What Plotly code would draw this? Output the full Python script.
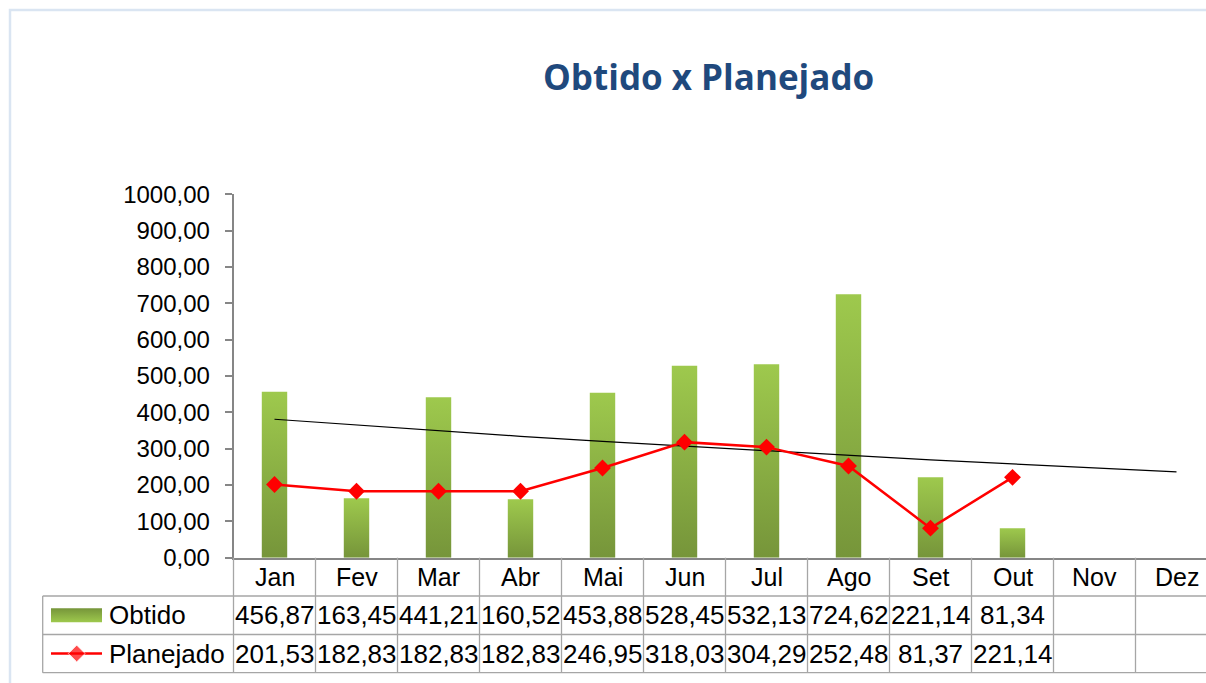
import plotly.graph_objects as go

# ---------------- data ----------------
MONTHS = ["Jan", "Fev", "Mar", "Abr", "Mai", "Jun", "Jul", "Ago", "Set", "Out", "Nov", "Dez"]
OBTIDO = [456.87, 163.45, 441.21, 160.52, 453.88, 528.45, 532.13, 724.62, 221.14, 81.34]
PLANEJADO = [201.53, 182.83, 182.83, 182.83, 246.95, 318.03, 304.29, 252.48, 81.37, 221.14]
# trend line
TREND = [381, 365, 349, 334, 320, 307, 294, 281, 269, 258, 247, 236]
Y_TICKS = [0, 100, 200, 300, 400, 500, 600, 700, 800, 900, 1000]
SERIES_NAMES = ["Obtido", "Planejado"]
TITLE = "Obtido x Planejado"

# ---------------- layout constants (pixels) ----------------
W, H = 1206, 683
PLOT_L, PLOT_T, PLOT_B = 233.5, 194.3, 557.7
COL_W = 82.0
ROW_LINES = [596.0, 634.5, 672.7]
TABLE_L = 42.7
BAR_W = 0.31
GREEN_DARK, GREEN_LIGHT = "#76953A", "#9EC94D"
RED = "#FF0000"
GRID = "#A6A6A6"
AXIS = "#868686"
FONT = "Liberation Sans, Arial, sans-serif"


def fx(p):
    return p / W


def fy(p):
    return 1 - p / H


def fmt(v):
    return f"{v:.2f}".replace(".", ",")


fig = go.Figure()

# bars with vertical gradient
for i, v in enumerate(OBTIDO):
    h = BAR_W / 2
    fig.add_trace(go.Scatter(
        x=[i - h, i - h, i + h, i + h, i - h], y=[0, v, v, 0, 0],
        mode="lines", line=dict(width=0, color=GREEN_DARK),
        fill="toself",
        fillgradient=dict(type="vertical", colorscale=[[0, GREEN_DARK], [1, GREEN_LIGHT]]),
        hoverinfo="skip", showlegend=False, xaxis="x", yaxis="y"))

# trend line
fig.add_trace(go.Scatter(x=list(range(len(TREND))), y=TREND, mode="lines",
                         line=dict(color="#000000", width=1.2), showlegend=False,
                         hoverinfo="skip"))

# planejado line
fig.add_trace(go.Scatter(x=list(range(len(PLANEJADO))), y=PLANEJADO, mode="lines+markers",
                         line=dict(color=RED, width=2.5),
                         marker=dict(symbol="diamond", size=13, color=RED),
                         showlegend=False, name=SERIES_NAMES[1]))

# legend keys in pixel-space overlay subplot
fig.add_trace(go.Scatter(
    x=[51, 51, 102, 102, 51], y=[622.3, 608.3, 608.3, 622.3, 622.3],
    mode="lines", line=dict(width=0, color=GREEN_DARK), fill="toself",
    fillgradient=dict(type="vertical", colorscale=[[0, GREEN_LIGHT], [1, GREEN_DARK]]),
    xaxis="x2", yaxis="y2", showlegend=False, hoverinfo="skip"))
fig.add_trace(go.Scatter(
    x=[51, 76.7, 102], y=[653.5, 653.5, 653.5], mode="lines+markers",
    line=dict(color=RED, width=2.5),
    marker=dict(symbol="diamond", size=[0, 13, 0], color=RED),
    xaxis="x2", yaxis="y2", showlegend=False, hoverinfo="skip"))

shapes = []
# page border
shapes.append(dict(type="rect", xref="paper", yref="paper", x0=fx(10), x1=1.05, y0=fy(10), y1=-0.05,
                   line=dict(color="#DAE5F2", width=2.5), fillcolor="rgba(0,0,0,0)", layer="below"))
# horizontal table lines
for yy in ROW_LINES:
    shapes.append(dict(type="line", xref="paper", yref="paper", x0=fx(TABLE_L), x1=1,
                       y0=fy(yy), y1=fy(yy), line=dict(color=GRID, width=1.3)))
# table left border
shapes.append(dict(type="line", xref="paper", yref="paper", x0=fx(TABLE_L), x1=fx(TABLE_L),
                   y0=fy(ROW_LINES[0]), y1=fy(ROW_LINES[-1]), line=dict(color=GRID, width=1.3)))
shapes.append(dict(type="line", xref="paper", yref="paper", x0=fx(PLOT_L), x1=fx(PLOT_L),
                   y0=fy(PLOT_B), y1=fy(ROW_LINES[-1]), line=dict(color=GRID, width=1.3)))
for k in range(1, len(MONTHS)):
    shapes.append(dict(type="line", xref="x", yref="paper", x0=k - 0.5, x1=k - 0.5,
                       y0=fy(PLOT_B), y1=fy(ROW_LINES[-1]), line=dict(color=GRID, width=1.3)))

annotations = []
annotations.append(dict(text=TITLE, xref="paper", yref="paper", x=fx(708), y=fy(76),
                        xanchor="center", yanchor="middle", showarrow=False,
                        font=dict(family="Open Sans, sans-serif", size=35, color="#1F497D", weight="bold")))
row_c = [(PLOT_B + ROW_LINES[0]) / 2, (ROW_LINES[0] + ROW_LINES[1]) / 2, (ROW_LINES[1] + ROW_LINES[2]) / 2]
for i, m in enumerate(MONTHS):
    annotations.append(dict(text=m, xref="x", yref="paper", x=i, y=fy(row_c[0]),
                            xanchor="center", yanchor="middle", showarrow=False,
                            font=dict(family=FONT, size=25, color="#000")))
for r, series in enumerate([OBTIDO, PLANEJADO]):
    for i, v in enumerate(series):
        annotations.append(dict(text=fmt(v), xref="x", yref="paper", x=i, y=fy(row_c[r + 1]),
                                xanchor="center", yanchor="middle", showarrow=False,
                                font=dict(family=FONT, size=26, color="#000")))
    annotations.append(dict(text=SERIES_NAMES[r], xref="paper", yref="paper", x=fx(107),
                            y=fy(row_c[r + 1]), xanchor="left", yanchor="middle", showarrow=False,
                            font=dict(family=FONT, size=26, color="#000")))

fig.update_layout(
    width=W, height=H, margin=dict(l=0, r=0, t=0, b=0, pad=0, autoexpand=False),
    paper_bgcolor="white", plot_bgcolor="rgba(0,0,0,0)",
    separators=",.",
    showlegend=False,
    xaxis=dict(domain=[fx(PLOT_L), 1], range=[-0.5, -0.5 + (W - PLOT_L) / COL_W],
               showticklabels=False, ticks="", showgrid=False, zeroline=False, automargin=False,
               showline=True, linecolor=AXIS, linewidth=1.5, fixedrange=True),
    yaxis=dict(domain=[fy(PLOT_B), fy(PLOT_T)], range=[0, 1000], tickvals=Y_TICKS,
               tickformat=".2f", ticks="outside", ticklen=7, tickwidth=1.5, tickcolor=AXIS,
               showline=True, linecolor=AXIS, linewidth=1.5, showgrid=False, zeroline=False,
               tickfont=dict(family=FONT, size=24, color="#000"), ticklabelstandoff=10,
               fixedrange=True, automargin=False),
    xaxis2=dict(domain=[0, 1], range=[0, W], visible=False, anchor="y2", fixedrange=True,
                automargin=False),
    yaxis2=dict(domain=[0, 1], range=[H, 0], visible=False, anchor="x2", fixedrange=True,
                automargin=False),
    shapes=shapes, annotations=annotations,
)

POST = (
    "var d=document.getElementById('{plot_id}');"
    "document.documentElement.style.margin='0';document.documentElement.style.overflow='hidden';"
    "document.body.style.margin='0';document.body.style.overflow='hidden';"
    "d.style.position='fixed';d.style.left='0px';d.style.top='0px';"
)

fig.write_html("out.html", config={"displayModeBar": False}, post_script=POST)
